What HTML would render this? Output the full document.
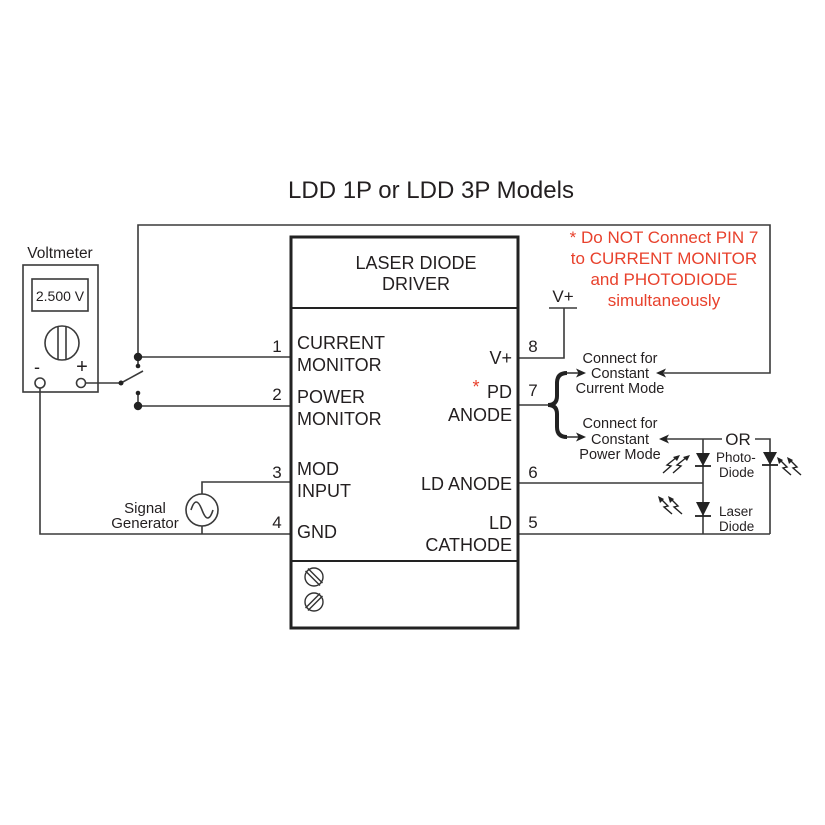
<!DOCTYPE html>
<html><head><meta charset="utf-8"><style>
html,body{margin:0;padding:0;background:#fff;}
svg{display:block;font-family:"Liberation Sans",Arial,sans-serif;}
</style></head><body>
<svg width="825" height="825" viewBox="0 0 825 825" xmlns="http://www.w3.org/2000/svg">
<rect width="825" height="825" fill="#fff"/>
<!-- Title -->
<text x="431" y="198" font-size="24" text-anchor="middle" fill="#231f20">LDD 1P or LDD 3P Models</text>

<g stroke="#3a3a3a" stroke-width="1.6" fill="none">
  <!-- top feedback wire -->
  <polyline points="138,357 138,225 770,225 770,373 664,373"/>
  <!-- pin1 -->
  <line x1="138" y1="357" x2="291" y2="357"/>
  <line x1="138" y1="357" x2="138" y2="365"/>
  <!-- pin2 -->
  <line x1="138" y1="393" x2="138" y2="406"/>
  <line x1="138" y1="406" x2="291" y2="406"/>
  <!-- switch -->
  <line x1="86" y1="383" x2="121" y2="383"/>
  <line x1="121" y1="383" x2="143" y2="371"/>
  <!-- minus wire / GND -->
  <polyline points="40,388 40,534 291,534"/>
  <!-- signal generator wires -->
  <polyline points="202,494 202,482 291,482"/>
  <line x1="202" y1="526" x2="202" y2="534"/>
  <!-- pin 8 / V+ -->
  <line x1="549" y1="308" x2="577" y2="308"/>
  <polyline points="564,308 564,358 518,358"/>
  <!-- pin 7 -->
  <line x1="518" y1="405" x2="548" y2="405"/>
  <line x1="566" y1="373" x2="580" y2="373"/>
  <line x1="566" y1="437" x2="580" y2="437"/>
  <!-- photodiode wiring -->
  <line x1="666" y1="439" x2="722" y2="439"/>
  <polyline points="755,439 770,439 770,534"/>
  <line x1="703" y1="439" x2="703" y2="534"/>
  <!-- pin 6 / pin 5 -->
  <line x1="518" y1="483" x2="703" y2="483"/>
  <line x1="518" y1="534" x2="770" y2="534"/>
  <!-- voltmeter -->
  <rect x="23" y="265" width="75" height="127"/>
  <rect x="32" y="279" width="56" height="32"/>
  <circle cx="62" cy="343" r="17"/>
  <line x1="58" y1="326.5" x2="58" y2="359.5"/>
  <line x1="66" y1="326.5" x2="66" y2="359.5"/>
  <circle cx="40" cy="383" r="5"/>
  <circle cx="81" cy="383" r="4.5"/>
  <!-- signal generator -->
  <circle cx="202" cy="510" r="16"/>
  <path d="M191 510 Q196 494 202 510 Q208 526 213 510"/>
  <!-- brace -->
  <path d="M567 373 Q557 373 557 383 L557 396 Q557 405 548 405 Q557 405 557 414 L557 427 Q557 437 567 437" stroke-width="4" stroke="#222"/>
</g>

<!-- switch dots -->
<g fill="#222">
  <circle cx="138" cy="357" r="4.2"/>
  <circle cx="138" cy="366" r="2.3"/>
  <circle cx="121" cy="383" r="2.5"/>
  <circle cx="138" cy="393" r="2.3"/>
  <circle cx="138" cy="406" r="4.2"/>
  <!-- arrowheads -->
  <polygon points="586,373 576,368.5 578.5,373 576,377.5"/>
  <polygon points="586,437 576,432.5 578.5,437 576,441.5"/>
  <polygon points="656,373 666,368.5 663.5,373 666,377.5"/>
  <polygon points="659,439 669,434.5 666.5,439 669,443.5"/>
  <!-- diodes -->
  <polygon points="696,453 710,453 703,466"/>
  <polygon points="696,502 710,502 703,516"/>
  <polygon points="763,452 777,452 770,465"/>
</g>
<g stroke="#222" stroke-width="1.8">
  <line x1="695" y1="466" x2="711" y2="466"/>
  <line x1="695" y1="516" x2="711" y2="516"/>
  <line x1="762" y1="465" x2="778" y2="465"/>
</g>

<!-- light arrows -->
<g stroke="#222" stroke-width="1.4" fill="none">
  <!-- photodiode left (pointing up-right) -->
  <polyline points="663,473 671,466 667,465 677,457"/>
  <polyline points="673,473 681,466 677,465 687,457"/>
  <!-- laser (pointing up-left) -->
  <polyline points="672,514 664,507 668,506 660,498"/>
  <polyline points="682,514 674,507 678,506 670,498"/>
  <!-- right photodiode (pointing up-left) -->
  <polyline points="791,475 783,468 787,467 779,459"/>
  <polyline points="801,475 793,468 797,467 789,459"/>
</g>
<g fill="#222">
  <polygon points="680,455 673,457 677,461"/>
  <polygon points="690,455 683,457 687,461"/>
  <polygon points="658,496 660,503 664,499"/>
  <polygon points="668,496 670,503 674,499"/>
  <polygon points="777,457 779,464 783,460"/>
  <polygon points="787,457 789,464 793,460"/>
</g>

<!-- main box -->
<g stroke="#222" fill="none">
  <rect x="291" y="237" width="227" height="391" stroke-width="3"/>
  <line x1="291" y1="308" x2="518" y2="308" stroke-width="2"/>
  <line x1="291" y1="561" x2="518" y2="561" stroke-width="2"/>
</g>
<!-- screws -->
<g stroke="#333" stroke-width="1.4" fill="none">
  <circle cx="314" cy="577" r="9"/>
  <line x1="308" y1="568.5" x2="322.5" y2="583"/>
  <line x1="305.5" y1="571" x2="320" y2="585.5"/>
  <circle cx="314" cy="602" r="9"/>
  <line x1="305.5" y1="608" x2="320" y2="593.5"/>
  <line x1="308" y1="610.5" x2="322.5" y2="596"/>
</g>

<g fill="#231f20">
  <text x="60" y="258" font-size="15.5" text-anchor="middle">Voltmeter</text>
  <text x="60" y="301" font-size="14" text-anchor="middle">2.500 V</text>
  <text x="37" y="373" font-size="18" text-anchor="middle">-</text>
  <text x="82" y="373" font-size="20" text-anchor="middle">+</text>
  <text x="145" y="513" font-size="15" text-anchor="middle">Signal</text>
  <text x="145" y="528" font-size="15" text-anchor="middle">Generator</text>

  <g font-size="17" text-anchor="middle">
    <text x="277" y="352">1</text>
    <text x="277" y="400">2</text>
    <text x="277" y="478">3</text>
    <text x="277" y="528">4</text>
    <text x="533" y="352">8</text>
    <text x="533" y="396">7</text>
    <text x="533" y="478">6</text>
    <text x="533" y="528">5</text>
  </g>

  <g font-size="18">
    <text x="416" y="269" text-anchor="middle">LASER DIODE</text>
    <text x="416" y="290" text-anchor="middle">DRIVER</text>
    <text x="297" y="349">CURRENT</text>
    <text x="297" y="371">MONITOR</text>
    <text x="297" y="403">POWER</text>
    <text x="297" y="425">MONITOR</text>
    <text x="297" y="475">MOD</text>
    <text x="297" y="497">INPUT</text>
    <text x="297" y="538">GND</text>
    <g text-anchor="end">
      <text x="512" y="364">V+</text>
      <text x="512" y="398">PD</text>
      <text x="512" y="421">ANODE</text>
      <text x="512" y="490">LD ANODE</text>
      <text x="512" y="529">LD</text>
      <text x="512" y="551">CATHODE</text>
    </g>
  </g>
  <text x="563" y="302" font-size="17" text-anchor="middle">V+</text>

  <g font-size="14.5" text-anchor="middle">
    <text x="620" y="363">Connect for</text>
    <text x="620" y="378">Constant</text>
    <text x="620" y="393">Current Mode</text>
    <text x="620" y="428">Connect for</text>
    <text x="620" y="444">Constant</text>
    <text x="620" y="459">Power Mode</text>
  </g>
  <text x="738" y="445" font-size="17" text-anchor="middle">OR</text>
  <g font-size="13.5">
    <text x="716" y="462">Photo-</text>
    <text x="719" y="477">Diode</text>
    <text x="719" y="516">Laser</text>
    <text x="719" y="531">Diode</text>
  </g>
</g>
<text x="476" y="393" font-size="18" fill="#e8412c" text-anchor="middle">*</text>
<g fill="#e8412c" font-size="17" text-anchor="middle">
  <text x="664" y="243">* Do NOT Connect PIN 7</text>
  <text x="664" y="264">to CURRENT MONITOR</text>
  <text x="664" y="285">and PHOTODIODE</text>
  <text x="664" y="306">simultaneously</text>
</g>
</svg>
</body></html>
